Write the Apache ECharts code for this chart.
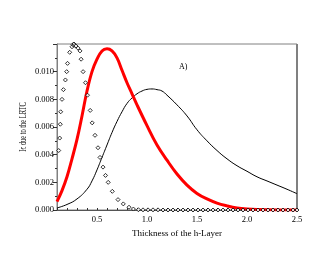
<!DOCTYPE html>
<html>
<head>
<meta charset="utf-8">
<script src="https://cdn.jsdelivr.net/npm/echarts@6/dist/echarts.min.js"></script>
<style>html,body{margin:0;padding:0;background:#fff}#c{width:327px;height:273px}</style>
</head>
<body>
<div id="c"></div>
<script>
var redX = [0.1,0.15,0.2,0.25,0.3,0.35,0.4,0.45,0.5,0.55,0.6,0.65,0.7,0.75,0.8,0.85,0.9,1.0,1.1,1.2,1.3,1.4,1.5,1.6,1.7,1.8,1.9,2.0,2.2,2.5];
var redY = [0.0006,0.0014,0.0024,0.0037,0.0051,0.0068,0.0086,0.0100,0.0109,0.0115,0.01165,0.0115,0.0110,0.0101,0.0092,0.0084,0.0076,0.0061,0.0047,0.0036,0.0026,0.0018,0.0012,0.0008,0.0005,0.0003,0.00015,0.00008,0.00002,0.0];
var blackX = [0.1,0.2,0.3,0.4,0.45,0.5,0.55,0.6,0.65,0.7,0.75,0.8,0.85,0.9,0.95,1.0,1.05,1.1,1.15,1.2,1.3,1.4,1.5,1.6,1.7,1.8,1.9,2.0,2.1,2.2,2.3,2.4,2.5];
var blackY = [0.00015,0.0004,0.0008,0.0015,0.0021,0.0029,0.0038,0.0047,0.0056,0.0064,0.0071,0.0077,0.0081,0.0084,0.0086,0.00872,0.00875,0.0087,0.0086,0.0083,0.0076,0.0068,0.0058,0.0050,0.0043,0.0037,0.0032,0.0028,0.0024,0.0021,0.0018,0.0015,0.00118];
var dotX = [0.117,0.127,0.133,0.137,0.15,0.164,0.184,0.197,0.205,0.227,0.25,0.26,0.27,0.28,0.29,0.31,0.33,0.341,0.361,0.385,0.405,0.432,0.452,0.48,0.51,0.53,0.56,0.585,0.612,0.653,0.71,0.763,0.82,0.864,0.914,0.96,1.01,1.06,1.11,1.16,1.21,1.26,1.31,1.36,1.41,1.46,1.51,1.56,1.61,1.66,1.71,1.76,1.81,1.86,1.91,1.96,2.01,2.06,2.11,2.16,2.21,2.26,2.31,2.36,2.41,2.46,2.5];
var dotY = [0.0043,0.0052,0.0062,0.0071,0.008,0.0087,0.0094,0.010,0.0106,0.0114,0.0118,0.01195,0.0120,0.0119,0.01185,0.0117,0.0115,0.0109,0.010,0.0092,0.0083,0.0072,0.0063,0.0054,0.0045,0.0038,0.0031,0.0025,0.002,0.00135,0.00075,0.00044,0.0002,0.00007,0.00002,0.00001,0.00001,0.00001,0.00001,0.0,0.0,0.0,0.0,0.0,0.0,0.0,0.0,0.0,0.0,0.0,0.0,0.0,0.0,0.0,0.0,0.0,0.0,0.0,0.0,0.0,0.0,0.0,0.0,0.0,0.0,0.0,0.0];
var xLabels = [0.5,1.0,1.5,2.0,2.5];
var yLabels = [0.000,0.002,0.004,0.006,0.008,0.010];
var xName = 'Thickness of the h-Layer';
var yName = 'Ic due to the LRTC';
var note = 'A)';

function zip(a,b){return a.map(function(v,i){return [v,b[i]];});}
var serif = '"Liberation Serif","DejaVu Serif",serif';
var chart = echarts.init(document.getElementById('c'));
chart.setOption({
  animation:false,
  backgroundColor:'#fff',
  grid:{left:57,right:30,top:44,bottom:63,show:true,borderColor:'#808080',borderWidth:1,backgroundColor:'transparent'},
  xAxis:{type:'value',min:0.1,max:2.5,interval:0.1,
    name:xName,nameLocation:'middle',nameGap:13,
    nameTextStyle:{fontFamily:serif,fontSize:9,color:'#000'},
    axisLine:{show:true,onZero:false,lineStyle:{color:'#555',width:1}},
    axisTick:{show:true,inside:true,length:2,lineStyle:{color:'#333'}},
    splitLine:{show:false},
    axisLabel:{interval:0,fontFamily:serif,fontSize:8.5,color:'#000',margin:5,
      formatter:function(v){for(var i=0;i<xLabels.length;i++){if(Math.abs(v-xLabels[i])<1e-6)return xLabels[i].toFixed(1);}return '';}}},
  yAxis:{type:'value',min:0,max:0.012,interval:0.002,
    axisLine:{show:true,lineStyle:{color:'#808080',width:1}},
    axisTick:{show:true,inside:false,length:4,lineStyle:{color:'#333'}},
    minorTick:{show:true,splitNumber:2,length:2,lineStyle:{color:'#333'}},
    splitLine:{show:false},
    axisLabel:{fontFamily:serif,fontSize:8.5,color:'#000',margin:3,
      formatter:function(v){for(var i=0;i<yLabels.length;i++){if(Math.abs(v-yLabels[i])<1e-9)return yLabels[i].toFixed(3);}return '';}}},
  graphic:[
    {type:'text',left:179,top:63,style:{text:note,font:'8px '+serif,fill:'#000'}},
    {type:'text',x:23,y:127,rotation:Math.PI/2,scaleX:0.64,scaleY:1,
      style:{text:yName,font:'10px '+serif,fill:'#000',align:'center',verticalAlign:'middle'}},
    {type:'line',shape:{x1:297,y1:44,x2:297,y2:210},style:{stroke:'#808080',lineWidth:2}}
  ],
  series:[
    {type:'line',data:zip(blackX,blackY),smooth:0.5,symbol:'none',lineStyle:{color:'#000',width:1},z:2},
    {type:'line',data:zip(redX,redY),smooth:0.4,symbol:'none',lineStyle:{color:'#ff0000',width:3},z:3},
    {type:'scatter',data:zip(dotX,dotY),symbol:'diamond',symbolSize:4,itemStyle:{color:'#fff',borderColor:'#000',borderWidth:1},z:4,clip:true}
  ]
});
</script>
</body>
</html>
